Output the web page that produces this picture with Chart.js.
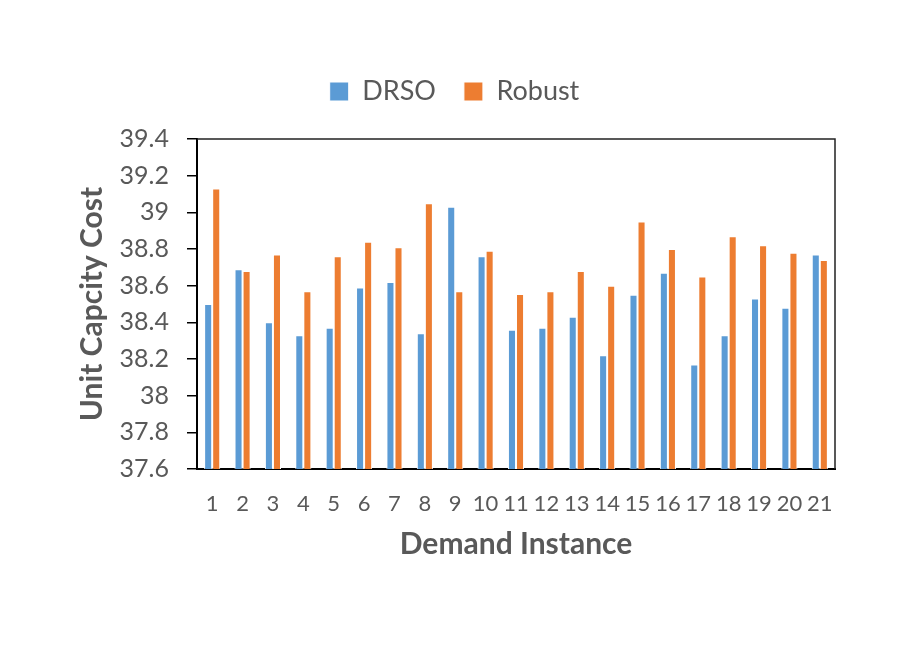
<!DOCTYPE html>
<html>
<head>
<meta charset="utf-8">
<script src="https://cdn.jsdelivr.net/npm/chart.js@4.4.1/dist/chart.umd.min.js"></script>
<style>
  html, body { margin: 0; padding: 0; background: #fff; }
  #wrap { width: 913px; height: 646px; }
</style>
</head>
<body>
<div id="wrap"><canvas id="myChart" width="913" height="646"></canvas></div>
<script>
// values
const instances = ['1', '2', '3', '4', '5', '6', '7', '8', '9', '10', '11', '12', '13', '14', '15', '16', '17', '18', '19', '20', '21']
const drso = [38.50, 38.69, 38.40, 38.33, 38.37, 38.59, 38.62, 38.34, 39.03, 38.76, 38.36, 38.37, 38.43, 38.22, 38.55, 38.67, 38.17, 38.33, 38.53, 38.48, 38.77]
const robust = [39.13, 38.68, 38.77, 38.57, 38.76, 38.84, 38.81, 39.05, 38.57, 38.79, 38.555, 38.57, 38.68, 38.60, 38.95, 38.80, 38.65, 38.87, 38.82, 38.78, 38.74]
const yTicks = [37.6, 37.8, 38, 38.2, 38.4, 38.6, 38.8, 39, 39.2, 39.4]

const FONT = 'Lato, "Open Sans", sans-serif'
const GREY = '#595959'

// top and right edges of the plot frame
const frame = {
  id: 'frame',
  afterDraw (chart) {
    const { ctx, chartArea: a } = chart
    ctx.save()
    ctx.strokeStyle = '#222'
    ctx.lineWidth = 1.5
    ctx.beginPath()
    ctx.moveTo(a.left, a.top)
    ctx.lineTo(a.right, a.top)
    ctx.lineTo(a.right, a.bottom)
    ctx.stroke()
    ctx.restore()
  }
}

// leave some extra room under the legend
const legendGap = {
  id: 'legendGap',
  beforeLayout (chart) {
    const lg = chart.legend
    if (lg && !lg._gap) {
      const fit = lg.fit.bind(lg)
      lg.fit = function () { fit(); this.height += 24 }
      lg._gap = true
    }
  }
}

const ctx = document.getElementById('myChart').getContext('2d')
const myChart = new Chart(ctx, {
  type: 'bar',
  data: {
    labels: instances,
    datasets: [{
      label: 'DRSO',
      data: drso,
      backgroundColor: '#5B9BD5',
      borderColor: '#fff',
      borderWidth: 1
    }, {
      label: 'Robust',
      data: robust,
      backgroundColor: '#ED7D31',
      borderColor: '#fff',
      borderWidth: 1
    }]
  },
  options: {
    responsive: false,
    animation: false,
    events: [],
    datasets: {
      bar: { categoryPercentage: 0.53, barPercentage: 1 }
    },
    layout: {
      padding: { left: 74, right: 78, top: 50, bottom: 84 }
    },
    plugins: {
      tooltip: { enabled: false },
      legend: {
        position: 'top',
        labels: {
          boxWidth: 19,
          boxHeight: 19,
          padding: 28,
          color: GREY,
          font: { family: FONT, size: 27 }
        }
      }
    },
    scales: {
      x: {
        grid: { display: false, drawTicks: false },
        border: { display: true, color: '#000', width: 2 },
        ticks: {
          color: GREY,
          padding: 22,
          maxRotation: 0,
          autoSkip: false,
          font: { family: FONT, size: 22 }
        },
        title: {
          display: true,
          text: 'Demand Instance',
          color: GREY,
          padding: 0,
          font: { family: FONT, size: 30, weight: 'bold' }
        },
        afterFit (scale) { scale.height = 93 }
      },
      y: {
        min: 37.6,
        max: 39.4,
        afterBuildTicks (scale) {
          scale.ticks = yTicks.map(v => ({ value: v }))
        },
        grid: {
          drawOnChartArea: false,
          drawTicks: true,
          tickLength: 10,
          color: '#000',
          lineWidth: 1.5
        },
        border: { display: true, color: '#000', width: 2 },
        ticks: {
          color: GREY,
          padding: 18,
          font: { family: FONT, size: 25 },
          callback: v => String(Number(v.toFixed(1)))
        },
        title: {
          display: true,
          text: 'Unit Capcity Cost',
          color: GREY,
          padding: 0,
          font: { family: FONT, size: 30, weight: 'bold' }
        },
        afterFit (scale) { scale.width = 123 }
      }
    }
  },
  plugins: [frame, legendGap]
})
</script>
</body>
</html>
